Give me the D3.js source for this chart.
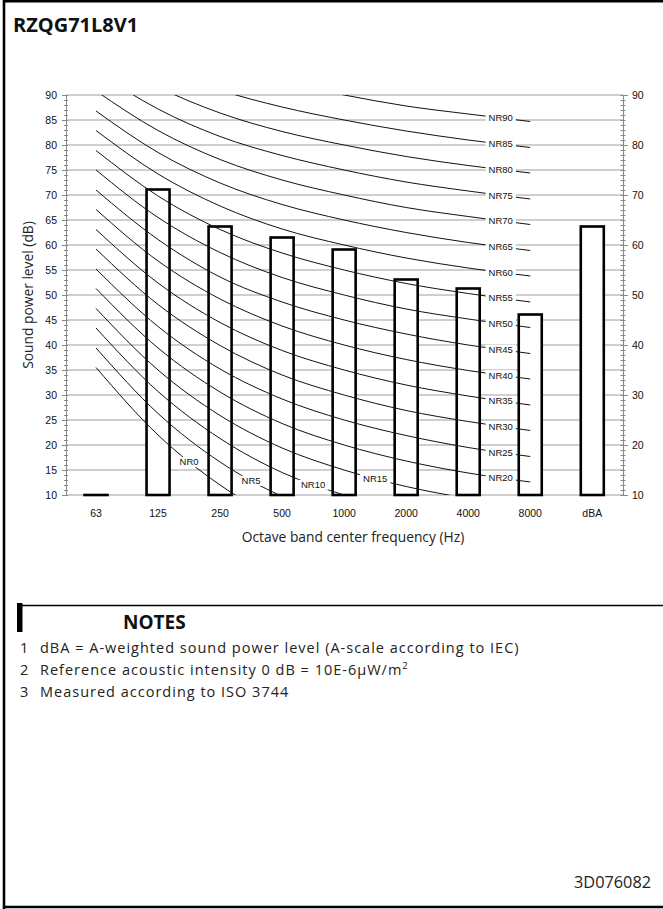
<!DOCTYPE html>
<html>
<head>
<meta charset="utf-8">
<script src="https://cdn.jsdelivr.net/npm/d3@7"></script>
<style>
  html, body { margin: 0; padding: 0; background: #fff; }
  svg { display: block; }
</style>
</head>
<body>
<svg id="chart" width="663" height="909"></svg>
<script>
// ---- data ----
const categories = ["63", "125", "250", "500", "1000", "2000", "4000", "8000", "dBA"];
const soundPower = [10, 71.1, 63.7, 61.5, 59.1, 53.1, 51.3, 46.1, 63.7];
const nrBands = ["63", "125", "250", "500", "1000", "2000", "4000", "8000"];
const nrLevels = [0, 5, 10, 15, 20, 25, 30, 35, 40, 45, 50, 55, 60, 65, 70, 75, 80, 85, 90];
const nrCurves = [
  [35.5, 22.0, 12.0, 4.8, 0, -3.5, -6.1, -8.0],
  [39.4, 26.3, 16.6, 9.7, 5, 1.6, -1.0, -2.8],
  [43.4, 30.7, 21.3, 14.5, 10, 6.6, 4.2, 2.3],
  [47.3, 35.0, 25.9, 19.4, 15, 11.7, 9.3, 7.4],
  [51.3, 39.4, 30.6, 24.3, 20, 16.8, 14.4, 12.6],
  [55.2, 43.7, 35.2, 29.2, 25, 21.9, 19.5, 17.7],
  [59.2, 48.1, 39.9, 34.0, 30, 26.9, 24.7, 22.9],
  [63.1, 52.4, 44.5, 38.9, 35, 32.0, 29.8, 28.0],
  [67.1, 56.8, 49.2, 43.8, 40, 37.1, 34.9, 33.2],
  [71.0, 61.1, 53.6, 48.6, 45, 42.2, 40.0, 38.3],
  [75.0, 65.5, 58.5, 53.5, 50, 47.2, 45.2, 43.5],
  [78.9, 69.8, 63.1, 58.4, 55, 52.3, 50.3, 48.6],
  [82.9, 74.2, 67.8, 63.2, 60, 57.4, 55.4, 53.8],
  [86.8, 78.5, 72.4, 68.1, 65, 62.5, 60.5, 58.9],
  [90.8, 82.9, 77.1, 73.0, 70, 67.5, 65.7, 64.1],
  [94.7, 87.2, 81.7, 77.9, 75, 72.6, 70.8, 69.2],
  [98.7, 91.6, 86.4, 82.7, 80, 77.7, 75.9, 74.4],
  [102.6, 95.9, 91.0, 87.6, 85, 82.8, 81.0, 79.5],
  [106.6, 100.3, 95.7, 92.5, 90, 87.8, 86.2, 84.7]
];
const leftTicks = [10, 15, 20, 25, 30, 35, 40, 45, 50, 55, 60, 65, 70, 75, 80, 85, 90];
const rightTicks = [10, 20, 30, 40, 50, 60, 70, 80, 90];
const notes = [
  "dBA = A-weighted sound power level (A-scale according to IEC)",
  "Reference acoustic intensity 0 dB = 10E-6\u00B5W/m",
  "Measured according to ISO 3744"
];

// ---- layout ----
const svg = d3.select("#chart");
const X0 = 65, X1 = 623.3, YT = 95, YB = 495;
const x = d3.scaleBand().domain(categories).range([X0, X1]).padding(0);
const y = d3.scaleLinear().domain([10, 90]).range([YB, YT]);
const cx = c => x(c) + x.bandwidth() / 2;
const sansNum = "'Liberation Sans', Arial, sans-serif";
const sansTxt = "'Open Sans', 'Noto Sans', sans-serif";

// frame
svg.append("path")
  .attr("d", `M4,909 L4,1.3 L663,1.3 M4,907 L663,907`)
  .attr("fill", "none").attr("stroke", "#000").attr("stroke-width", 2.6);

// title
svg.append("text").attr("x", 13).attr("y", 32)
  .attr("font-family", sansTxt).attr("font-weight", 700).attr("font-size", 20)
  .attr("fill", "#111").text("RZQG71L8V1");

// gridlines
svg.append("g").selectAll("line").data(leftTicks).join("line")
  .attr("x1", X0 + 1).attr("x2", 623)
  .attr("y1", d => y(d)).attr("y2", d => y(d))
  .attr("stroke", "#9e9e9e").attr("stroke-width", 1);

// left axis
const leftAxis = svg.append("g").attr("transform", `translate(${X0 + 1},0)`);
leftAxis.call(d3.axisLeft(y).tickValues(d3.range(10, 91, 1)).tickSize(2).tickFormat(""))
  .call(g => g.select(".domain").remove())
  .call(g => g.selectAll(".tick line").attr("x2", 2).attr("x1", -2).attr("stroke", "#888"));
leftAxis.append("g")
  .call(d3.axisLeft(y).tickValues(leftTicks).tickSize(4).tickPadding(5))
  .call(g => g.select(".domain").attr("stroke", "#888"))
  .call(g => g.selectAll(".tick line").attr("stroke", "#888"))
  .call(g => g.selectAll("text").attr("font-family", sansNum).attr("font-size", 10.5).attr("fill", "#111"));

// right axis
const rightAxis = svg.append("g").attr("transform", `translate(623,0)`);
rightAxis.call(d3.axisRight(y).tickValues(d3.range(10, 91, 1)).tickSize(2).tickFormat(""))
  .call(g => g.select(".domain").remove())
  .call(g => g.selectAll(".tick line").attr("x1", -2.5).attr("x2", 2.5).attr("stroke", "#888"));
rightAxis.append("g")
  .call(d3.axisRight(y).tickValues(rightTicks).tickSize(5).tickPadding(4))
  .call(g => g.select(".domain").attr("stroke", "#888"))
  .call(g => g.selectAll(".tick line").attr("stroke", "#888"))
  .call(g => g.selectAll("text").attr("font-family", sansNum).attr("font-size", 10.5).attr("fill", "#111"));

// bottom axis labels
svg.append("g").attr("transform", `translate(0,${YB})`)
  .call(d3.axisBottom(x).tickSize(0).tickPadding(15))
  .call(g => g.select(".domain").remove())
  .call(g => g.selectAll("text").attr("font-family", sansNum).attr("font-size", 10.5).attr("fill", "#111"));

// axis titles
svg.append("text")
  .attr("transform", `translate(33,${(YT + YB) / 2}) rotate(-90)`)
  .attr("text-anchor", "middle").attr("font-family", sansTxt).attr("font-size", 13.8).attr("fill", "#222")
  .text("Sound power level (dB)");
svg.append("text").attr("x", 353).attr("y", 542)
  .attr("text-anchor", "middle").attr("font-family", sansTxt).attr("font-size", 13.8).attr("fill", "#222")
  .text("Octave band center frequency (Hz)");

// bars
const barW = 23;
svg.append("g").selectAll("rect").data(categories.map((c, i) => ({ c, v: soundPower[i] }))).join("rect")
  .attr("x", d => cx(d.c) - barW / 2)
  .attr("width", barW)
  .attr("y", d => y(d.v))
  .attr("height", d => Math.max(0.01, y(10) - y(d.v)))
  .attr("fill", "#fff").attr("stroke", "#000").attr("stroke-width", 2.6);

// NR curves
svg.append("defs").append("clipPath").attr("id", "plotclip")
  .append("rect").attr("x", X0).attr("y", YT).attr("width", X1 - X0).attr("height", YB - YT);
const line = d3.line().x(d => cx(d.b)).y(d => y(d.v)).curve(d3.curveMonotoneX);
const curveG = svg.append("g").attr("clip-path", "url(#plotclip)");
const labelG = svg.append("g");
nrLevels.forEach((lvl, i) => {
  const pts = nrBands.map((b, j) => ({ b, v: nrCurves[i][j] }));
  const path = curveG.append("path").datum(pts).attr("d", line)
    .attr("fill", "none").attr("stroke", "#111").attr("stroke-width", 1);
  const idx = lvl <= 15 ? 1.5 + lvl / 5 : 6.5;
  const tx = cx(nrBands[0]) + idx * x.bandwidth() + (lvl > 15 ? 1.5 : 0);
  const node = path.node();
  let lo = 0, hi = node.getTotalLength();
  for (let k = 0; k < 40; k++) {
    const mid = (lo + hi) / 2;
    if (node.getPointAtLength(mid).x < tx) lo = mid; else hi = mid;
  }
  const p = node.getPointAtLength(lo);
  const t = labelG.append("text").attr("x", p.x).attr("y", p.y + 3.4)
    .attr("text-anchor", "middle").attr("font-family", sansNum).attr("font-size", 9.5)
    .attr("fill", "#111").text("NR" + lvl);
  const bb = t.node().getBBox();
  labelG.insert("rect", "text").attr("x", bb.x - 3).attr("y", p.y - 5).attr("width", bb.width + 6).attr("height", 10)
    .attr("fill", "#fff");
});

// notes
svg.append("rect").attr("x", 17).attr("y", 603).attr("width", 5.5).attr("height", 29).attr("fill", "#000");
svg.append("line").attr("x1", 22).attr("x2", 663).attr("y1", 605.5).attr("y2", 605.5)
  .attr("stroke", "#000").attr("stroke-width", 1.3);
svg.append("text").attr("x", 123).attr("y", 629)
  .attr("font-family", sansTxt).attr("font-weight", 700).attr("font-size", 19).attr("fill", "#111").text("NOTES");
const noteG = svg.append("g").attr("font-family", sansTxt).attr("font-size", 14.5).attr("fill", "#222");
notes.forEach((n, i) => {
  const yy = 653 + i * 22;
  noteG.append("text").attr("x", 20).attr("y", yy).text(String(i + 1));
  const t = noteG.append("text").attr("x", 40).attr("y", yy).attr("letter-spacing", 1.0).text(n);
  if (i === 1) t.append("tspan").attr("dy", -6).attr("font-size", 9.5).text("2");
});
svg.append("text").attr("x", 651).attr("y", 888).attr("text-anchor", "end")
  .attr("font-family", sansTxt).attr("font-size", 16.3).attr("fill", "#222").text("3D076082");
</script>
</body>
</html>
